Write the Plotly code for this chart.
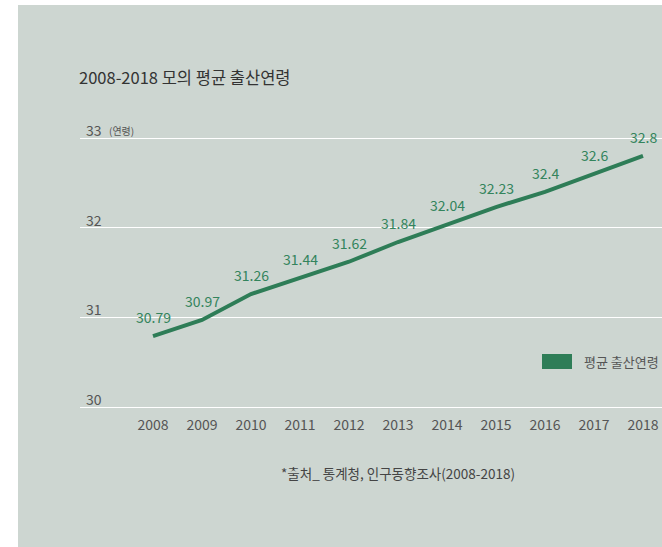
import plotly.graph_objects as go

years = [2008, 2009, 2010, 2011, 2012, 2013, 2014, 2015, 2016, 2017, 2018]
ages = [30.79, 30.97, 31.26, 31.44, 31.62, 31.84, 32.04, 32.23, 32.4, 32.6, 32.8]
age_labels = ["30.79", "30.97", "31.26", "31.44", "31.62", "31.84", "32.04", "32.23", "32.4", "32.6", "32.8"]
y_ticks = [30, 31, 32, 33]
y_tick_labels = ["30", "31", "32", "33"]
year_labels = [str(y) for y in years]

title_text = "2008-2018 모의 평균 출산연령"
series_name = "평균 출산연령"
unit_text = "(연령)"
source_text = "*출처_ 통계청, 인구동향조사(2008-2018)"

W, H = 662, 547
L, R, T, B = 80, 0, 130, 132
PW, PH = W - L - R, H - T - B

GREEN = "#2E7D57"
BG = "#CDD6D1"
FONT = "Noto Sans CJK KR"

def px_x(p):
    return (p - L) / PW

def px_y(p):
    return (H - B - p) / PH

fig = go.Figure()
fig.add_trace(go.Scatter(
    x=years, y=ages, mode="lines",
    line=dict(color=GREEN, width=4),
    name=series_name, showlegend=False, hoverinfo="skip",
))

annotations = []
for x, y, t in zip(years, ages, age_labels):
    annotations.append(dict(x=x, y=y, xref="x", yref="y", text=t, showarrow=False,
                            yanchor="middle", xanchor="center", yshift=19,
                            font=dict(family=FONT, size=14, color="#33845C")))
for v, t in zip(y_ticks, y_tick_labels):
    annotations.append(dict(x=px_x(84), y=v, xref="paper", yref="y", text=t, showarrow=False,
                            xanchor="left", yanchor="bottom", yshift=-4,
                            font=dict(family=FONT, size=14, color="#555555")))
annotations.append(dict(x=px_x(107), y=33, xref="paper", yref="y", text=unit_text, showarrow=False,
                        xanchor="left", yanchor="bottom", yshift=-2,
                        font=dict(family=FONT, size=10, color="#555555")))
annotations.append(dict(x=px_x(77), y=px_y(77), xref="paper", yref="paper", text=title_text,
                        showarrow=False, xanchor="left", yanchor="middle",
                        font=dict(family=FONT, size=16.5, color="#333333")))
annotations.append(dict(x=px_x(398), y=px_y(473), xref="paper", yref="paper", text=source_text,
                        showarrow=False, xanchor="center", yanchor="middle",
                        font=dict(family=FONT, size=13.5, color="#444444")))
annotations.append(dict(x=px_x(582), y=px_y(361), xref="paper", yref="paper", text=series_name,
                        showarrow=False, xanchor="left", yanchor="middle",
                        font=dict(family=FONT, size=13, color="#555555")))

shapes = [
    dict(type="rect", xref="paper", yref="paper", layer="below",
         x0=px_x(18), x1=px_x(W + 5), y0=px_y(5), y1=px_y(H + 5),
         fillcolor=BG, line=dict(width=0)),
    dict(type="rect", xref="paper", yref="paper",
         x0=px_x(542), x1=px_x(572), y0=px_y(354), y1=px_y(369),
         fillcolor=GREEN, line=dict(width=0)),
]

ppy = (407 - 138) / 3.0
ppx = 49.0
fig.update_layout(
    width=W, height=H,
    margin=dict(l=L, r=R, t=T, b=B),
    paper_bgcolor="white", plot_bgcolor="rgba(0,0,0,0)",
    showlegend=False,
    font=dict(family=FONT),
    xaxis=dict(range=[2008 - (153 - L) / ppx, 2018 + (W - 643) / ppx],
               tickvals=years, ticktext=year_labels, showgrid=False, zeroline=False,
               showline=False, ticks="", tickfont=dict(family=FONT, size=14, color="#555555")),
    yaxis=dict(range=[30 - (H - B - 407) / ppy, 33 + (138 - T) / ppy],
               tickvals=y_ticks, showticklabels=False, showgrid=True, gridcolor="white",
               gridwidth=1.2, zeroline=False, showline=False, ticks=""),
    annotations=annotations,
    shapes=shapes,
)

fig.write_html("out.html")
